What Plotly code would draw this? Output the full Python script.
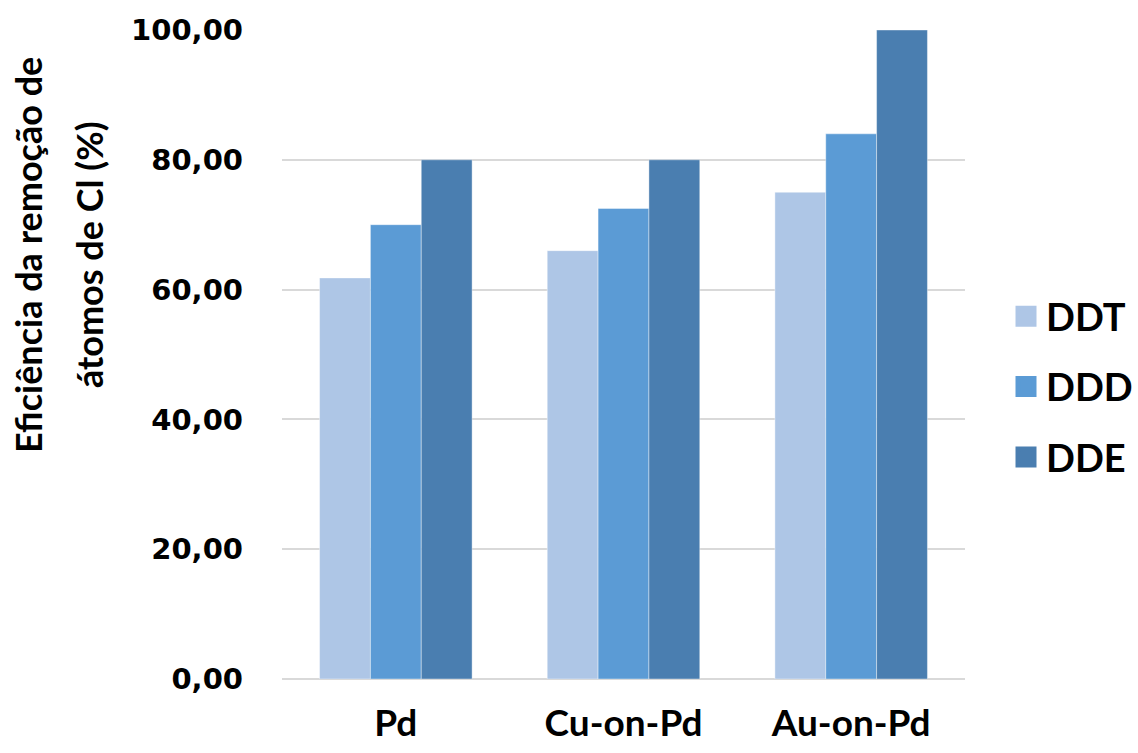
import plotly.graph_objects as go

categories = ["Pd", "Cu-on-Pd", "Au-on-Pd"]
series_names = ["DDT", "DDD", "DDE"]
ddt = [61.8, 66.0, 75.0]
ddd = [70.0, 72.5, 84.0]
dde = [80.0, 80.0, 100.0]
tick_vals = [0, 20, 40, 60, 80, 100]
title_lines = ["Eficiência da remoção de", "átomos de Cl (%)"]

colors = ["#AEC6E6", "#5B9BD5", "#4A7EB0"]
title_font = "Lato, 'Open Sans', sans-serif"
tick_font = "'DejaVu Sans', Verdana, sans-serif"

fig = go.Figure()
for name, vals, col in zip(series_names, [ddt, ddd, dde], colors):
    fig.add_trace(go.Bar(
        x=categories, y=vals, name=name, legendgroup=name, showlegend=False,
        marker=dict(color=col, line=dict(color="rgba(255,255,255,0.5)", width=0.8)),
    ))
    # legend proxy with a larger square symbol
    fig.add_trace(go.Scatter(
        x=[None], y=[None], name=name, legendgroup=name, mode="markers",
        marker=dict(symbol="square", color=col, size=16, line=dict(color=col, width=5)),
    ))

fig.update_layout(
    width=1138, height=753,
    margin=dict(l=282, r=173, t=30, b=74),
    paper_bgcolor="white", plot_bgcolor="white",
    barmode="group", bargap=0.33, bargroupgap=0,
    separators=",.",
    showlegend=True,
    legend=dict(
        xref="container", yref="container",
        x=1006 / 1138, y=(753 - 387) / 753, xanchor="left", yanchor="middle",
        font=dict(family=title_font, size=38, color="black", weight="bold"),
        itemsizing="trace", tracegroupgap=18, itemwidth=30,
        bgcolor="rgba(0,0,0,0)",
    ),
    xaxis=dict(
        showgrid=False, showline=False, ticks="", automargin=False,
        tickfont=dict(family=title_font, size=37, color="black", weight="bold"),
        ticklabelstandoff=19,
    ),
    yaxis=dict(
        range=[0, 100], tickvals=tick_vals, tickformat=".2f", automargin=False,
        showgrid=True, gridcolor="#D9D9D9", gridwidth=1.5,
        zeroline=True, zerolinecolor="#D9D9D9", zerolinewidth=2,
        showline=False, ticks="",
        tickfont=dict(family=tick_font, size=29, color="black", weight="bold"),
        ticklabelstandoff=38,
    ),
    annotations=[
        dict(
            text=line, xref="paper", yref="paper",
            x=(cx - 282) / 683, y=(679 - 255) / 649,
            xanchor="center", yanchor="middle",
            textangle=-90, showarrow=False,
            font=dict(family=title_font, size=36, color="black", weight="bold"),
        )
        for line, cx in zip(title_lines, [28, 89])
    ],
)

fig.write_html("out.html")
